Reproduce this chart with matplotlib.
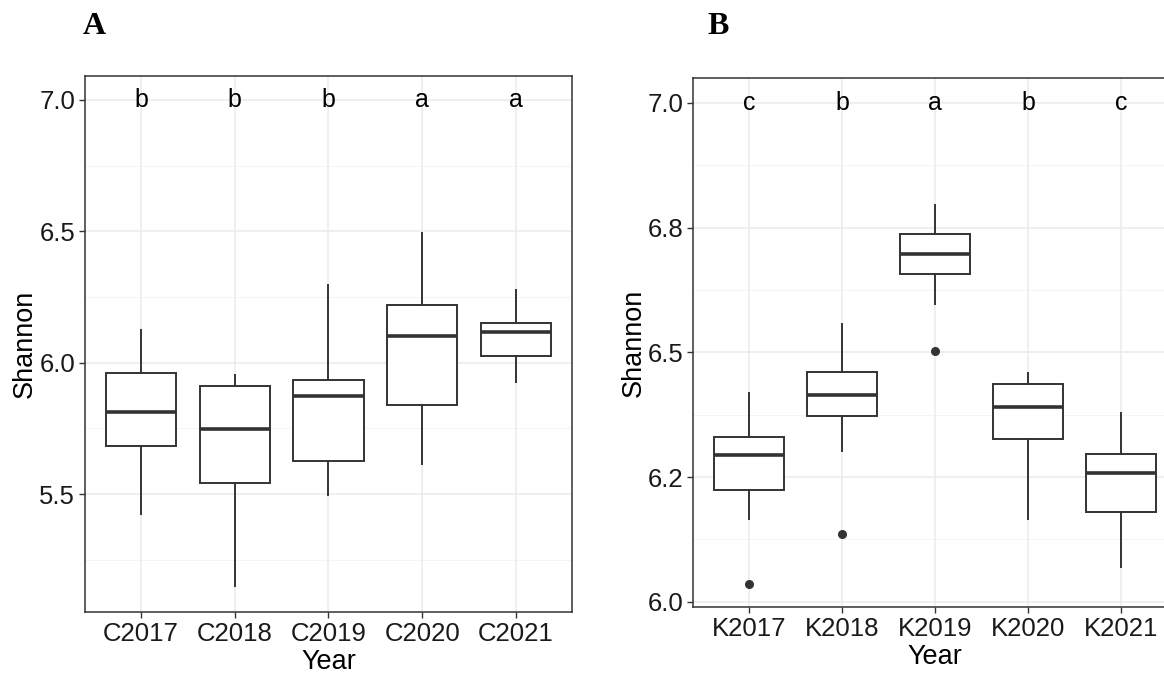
import matplotlib
matplotlib.use("Agg")
import matplotlib.pyplot as plt

plt.rcParams['font.family'] = ['Liberation Sans', 'DejaVu Sans']

# Panel A: C sites, Shannon index per year
c_years = ['C2017', 'C2018', 'C2019', 'C2020', 'C2021']
c_whislo = [5.424, 5.151, 5.497, 5.616, 5.928]
c_q1 = [5.682, 5.543, 5.626, 5.837, 6.024]
c_med = [5.811, 5.747, 5.875, 6.101, 6.115]
c_q3 = [5.959, 5.910, 5.935, 6.219, 6.151]
c_whishi = [6.124, 5.954, 6.296, 6.493, 6.276]
c_fliers = [[], [], [], [], []]
c_letters = ['b', 'b', 'b', 'a', 'a']
c_yticks = [5.5, 6.0, 6.5, 7.0]
c_yticklabels = ['5.5', '6.0', '6.5', '7.0']
c_yminor = [5.25, 5.75, 6.25, 6.75]

# Panel B: K sites
k_years = ['K2017', 'K2018', 'K2019', 'K2020', 'K2021']
k_whislo = [6.167, 6.302, 6.598, 6.167, 6.069]
k_q1 = [6.224, 6.372, 6.657, 6.326, 6.181]
k_med = [6.295, 6.414, 6.697, 6.391, 6.258]
k_q3 = [6.331, 6.460, 6.738, 6.436, 6.297]
k_whishi = [6.419, 6.556, 6.796, 6.458, 6.378]
k_fliers = [[6.035], [6.136], [6.502], [], []]
k_letters = ['c', 'b', 'a', 'b', 'c']
k_yticks = [6.0, 6.25, 6.5, 6.75, 7.0]
k_yticklabels = ['6.0', '6.2', '6.5', '6.8', '7.0']
k_yminor = [6.125, 6.375, 6.625, 6.875]

LETTER_Y = 7.0
DARK = '#333333'


def draw_panel(ax, years, lo, q1, med, q3, hi, fliers, letters,
               yticks, yticklabels, yminor, ylim):
    stats = []
    for i in range(len(years)):
        stats.append({'whislo': lo[i], 'q1': q1[i], 'med': med[i],
                      'q3': q3[i], 'whishi': hi[i], 'fliers': fliers[i],
                      'label': years[i]})
    pos = list(range(1, len(years) + 1))

    # grid first so boxes sit on top
    for y in yticks:
        ax.axhline(y, color='#EBEBEB', lw=1.1, zorder=0)
    for y in yminor:
        ax.axhline(y, color='#F2F2F2', lw=0.6, zorder=0)
    for x in pos:
        ax.axvline(x, color='#EBEBEB', lw=1.1, zorder=0)

    ax.bxp(stats, positions=pos, widths=0.75, showcaps=False,
           patch_artist=True,
           boxprops=dict(facecolor='white', edgecolor=DARK, lw=1.4),
           whiskerprops=dict(color=DARK, lw=1.4),
           medianprops=dict(color=DARK, lw=2.6),
           flierprops=dict(marker='o', markerfacecolor=DARK,
                           markeredgecolor=DARK, markersize=5.5))

    for x, t in zip(pos, letters):
        ax.text(x, LETTER_Y, t, ha='center', va='center', fontsize=18,
                color='black')

    ax.set_xlim(0.4, len(years) + 0.6)
    ax.set_ylim(*ylim)
    ax.set_yticks(yticks)
    ax.set_yticklabels(yticklabels)
    ax.set_xticks(pos)
    ax.set_xticklabels(years)
    ax.tick_params(axis='both', length=4, width=1, color=DARK,
                   labelsize=18.5, labelcolor='#1A1A1A', pad=3)
    for s in ax.spines.values():
        s.set_color(DARK)
        s.set_linewidth(1.1)
    ax.set_ylabel('Shannon', fontsize=19.5, labelpad=1)
    ax.set_xlabel('Year', fontsize=19.5, labelpad=2)


fig = plt.figure(figsize=(11.64, 6.73), dpi=100)

ax_a = fig.add_axes([0.0730, 0.0906, 0.4184, 0.7965])
draw_panel(ax_a, c_years, c_whislo, c_q1, c_med, c_q3, c_whishi, c_fliers,
           c_letters, c_yticks, c_yticklabels, c_yminor, (5.051, 7.091))

# panel B runs off the right edge of the figure, as in the source image
ax_b = fig.add_axes([0.5956, 0.0976, 0.4153, 0.7861])
draw_panel(ax_b, k_years, k_whislo, k_q1, k_med, k_q3, k_whishi, k_fliers,
           k_letters, k_yticks, k_yticklabels, k_yminor, (5.989, 7.0495))

fig.text(94 / 1164, 1 - 27 / 673, 'A', ha='center', va='center',
         fontsize=23, fontweight='bold', family='Liberation Serif')
fig.text(718 / 1164, 1 - 27 / 673, 'B', ha='center', va='center',
         fontsize=23, fontweight='bold', family='Liberation Serif')

fig.savefig('out.png', dpi=100, facecolor='white')
